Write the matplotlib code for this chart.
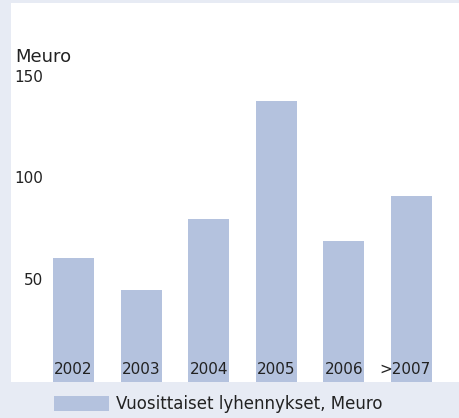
import matplotlib
matplotlib.use("Agg")
import matplotlib.pyplot as plt
from matplotlib.transforms import blended_transform_factory

plt.rcParams['font.family'] = ['DejaVu Sans']

years = ["2002", "2003", "2004", "2005", "2006", ">2007"]
values = [61, 45, 80, 138, 69, 91]
yticks = [50, 100, 150]
unit_label = "Meuro"
legend_label = "Vuosittaiset lyhennykset, Meuro"

bg = "#E7EBF4"
bar_color = "#B4C2DE"
text_color = "#222222"

fig = plt.figure(figsize=(4.6, 4.18), dpi=100, facecolor=bg)
ax = fig.add_axes([11 / 460, (418 - 381.7) / 418, 449 / 460, 378.7 / 418])
ax.set_facecolor("white")

x = list(range(len(years)))
bars = ax.bar(x, values, width=0.607, color=bar_color, label=legend_label)

ax.set_xlim(-0.925, 5.717)
ax.set_ylim(0, 186)
for s in ax.spines.values():
    s.set_visible(False)
ax.set_xticks([])
ax.set_yticks([])

# y labels drawn inside the white panel
tr = blended_transform_factory(ax.transAxes, ax.transData)
for t in yticks:
    ax.text(0.0713, t - 2.6, str(t), transform=tr, ha="right", va="baseline",
            fontsize=11, color=text_color)
ax.text(0.009, 157, unit_label, transform=tr, ha="left", va="baseline",
        fontsize=13, color=text_color)

# year labels at the foot of each bar
for i, lab in enumerate(years):
    off = -0.09 if lab.startswith(">") else 0
    ax.text(i + off, 3.9, lab, ha="center", va="baseline",
            fontsize=11, color=text_color)

fig.legend(handles=[bars], labels=[legend_label], loc="center left",
           bbox_to_anchor=(54 / 460, (418 - 404) / 418), frameon=False,
           fontsize=12, handlelength=3.3, handleheight=1.0,
           handletextpad=0.45, borderpad=0, borderaxespad=0,
           labelcolor=text_color)

fig.savefig("out.png", dpi=100, facecolor=bg)
